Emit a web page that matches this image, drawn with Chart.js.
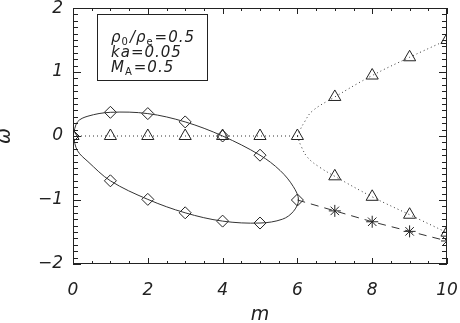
<!DOCTYPE html>
<html><head><meta charset="utf-8">
<script src="https://cdn.jsdelivr.net/npm/chart.js@4"></script>
<style>html,body{margin:0;padding:0;background:#fff}</style>
</head><body>
<canvas id="c" width="460" height="323" style="width:460px;height:323px;display:block"></canvas>
<script>
// ---- data ----
const xTickValues = [0, 2, 4, 6, 8, 10];
const yTickValues = [-2, -1, 0, 1, 2];

// diamonds on the closed (solid) curve
const diamondM = [0, 1, 2, 3, 4, 5, 6, 5, 4, 3, 2, 1];
const diamondW = [0, 0.37, 0.35, 0.22, 0.0, -0.30, -1.0, -1.36, -1.33, -1.20, -0.99, -0.70];

// solid closed curve
const loopM = [0, 0.12, 0.4, 1, 2, 3, 4, 5, 5.54, 5.89, 6.03, 5.89, 5.6, 5, 4, 3, 2, 1, 0.4, 0.12, 0];
const loopW = [0, 0.22, 0.31, 0.37, 0.35, 0.22, 0.0, -0.30, -0.54, -0.79, -1.0, -1.18, -1.30, -1.36, -1.33, -1.20, -0.99, -0.70, -0.40, -0.23, 0];

// triangles
const triM = [0, 1, 2, 3, 4, 5, 6, 7, 8, 9, 10, 7, 8, 9, 10];
const triW = [0, 0, 0, 0, 0, 0, 0, 0.61, 0.945, 1.23, 1.50, -0.63, -0.95, -1.23, -1.51];

// dotted lines
const dotFlatM = [0, 6];
const dotFlatW = [0, 0];
const dotUpM = [6, 6.06, 6.18, 6.4, 7, 8, 9, 10];
const dotUpW = [0, 0.08, 0.21, 0.39, 0.61, 0.945, 1.23, 1.50];
const dotLowM = [6, 6.1, 6.28, 6.6, 7, 8, 9, 10];
const dotLowW = [0, -0.16, -0.34, -0.49, -0.63, -0.95, -1.23, -1.51];

// dashed line with asterisks
const dashM = [6, 7, 8, 9, 10];
const dashW = [-1.0, -1.17, -1.34, -1.49, -1.64];
const starM = [7, 8, 9, 10];
const starW = [-1.17, -1.34, -1.49, -1.64];

const pts = (ms, ws) => ms.map((m, i) => ({x: m, y: ws[i]}));
const INK = '#222';
const FONT = '"DejaVu Sans", sans-serif';

const framePlugin = {
  id: 'frame',
  afterDraw(chart) {
    const ctx = chart.ctx, ca = chart.chartArea;
    const xs = chart.scales.x, ys = chart.scales.y;
    ctx.save();
    ctx.strokeStyle = INK; ctx.lineWidth = 1;
    ctx.strokeRect(ca.left + 0.5, ca.top + 0.5, ca.right - ca.left - 1, ca.bottom - ca.top - 1);
    ctx.beginPath();
    for (let i = 0; i <= 20; i++) {
      const v = i * 0.5;
      const p = Math.round(xs.getPixelForValue(v)) + 0.5;
      const len = (i % 4 === 0) ? 6 : 3;
      ctx.moveTo(p, ca.bottom); ctx.lineTo(p, ca.bottom - len);
      ctx.moveTo(p, ca.top); ctx.lineTo(p, ca.top + len);
    }
    for (let i = 0; i <= 40; i++) {
      const v = -2 + i * 0.1;
      const p = Math.round(ys.getPixelForValue(v)) + 0.5;
      const len = (i % 10 === 0) ? 8 : 5;
      ctx.moveTo(ca.left, p); ctx.lineTo(ca.left + len, p);
      ctx.moveTo(ca.right, p); ctx.lineTo(ca.right - len, p);
    }
    ctx.stroke();

    // top y tick label (kept inside the canvas, as in the reference)
    ctx.fillStyle = INK;
    ctx.font = 'italic 17px ' + FONT;
    ctx.textAlign = 'right'; ctx.textBaseline = 'middle';
    ctx.fillText(String(yTickValues[yTickValues.length - 1]), ca.left - 10, 8.5);

    // annotation box
    ctx.strokeRect(97.5, 14.5, 110, 66);
    ctx.textAlign = 'left'; ctx.textBaseline = 'alphabetic';
    const main = 'italic 15px ' + FONT, sub = '10px ' + FONT;
    const runs = (x, y, parts) => {
      for (const [t, s] of parts) {
        ctx.font = s ? sub : main;
        ctx.fillText(t, x, y + (s ? 3 : 0));
        x += ctx.measureText(t).width + (s ? 1 : 0);
      }
    };
    try { ctx.letterSpacing = '1px'; } catch (e) {}
    runs(111, 42, [['ρ', 0], ['0', 1], ['/', 0], ['ρ', 0], ['e', 1], ['=0.5', 0]]);
    runs(111, 57, [['ka=0.05', 0]]);
    runs(111, 72, [['M', 0], ['A', 1], ['=0.5', 0]]);
    ctx.restore();
  }
};

new Chart(document.getElementById('c'), {
  type: 'scatter',
  data: {
    datasets: [
      {data: pts(loopM, loopW), showLine: true, borderColor: '#333', borderWidth: 1, pointRadius: 0, tension: 0.35, fill: false},
      {data: pts(dotFlatM, dotFlatW), showLine: true, borderColor: '#333', borderWidth: 1, borderDash: [1, 3], pointRadius: 0, tension: 0},
      {data: pts(dotUpM, dotUpW), showLine: true, borderColor: '#333', borderWidth: 1, borderDash: [1, 3], pointRadius: 0, tension: 0.4},
      {data: pts(dotLowM, dotLowW), showLine: true, borderColor: '#333', borderWidth: 1, borderDash: [1, 3], pointRadius: 0, tension: 0.4},
      {data: pts(dashM, dashW), showLine: true, borderColor: '#333', borderWidth: 1, borderDash: [8, 6], pointRadius: 0, tension: 0},
      {data: pts(diamondM, diamondW), showLine: false, pointStyle: 'rectRot', pointRadius: 6, borderColor: INK, borderWidth: 1, backgroundColor: 'rgba(0,0,0,0)'},
      {data: pts(triM, triW), showLine: false, pointStyle: 'triangle', pointRadius: 7, borderColor: INK, borderWidth: 1, backgroundColor: 'rgba(0,0,0,0)'},
      {data: pts(starM, starW), showLine: false, pointStyle: 'star', pointRadius: 6, borderColor: INK, borderWidth: 1, backgroundColor: 'rgba(0,0,0,0)'}
    ]
  },
  options: {
    responsive: false, animation: false, devicePixelRatio: 1,
    layout: {padding: {left: 0, right: 13, top: 0, bottom: 0}},
    plugins: {legend: {display: false}, tooltip: {enabled: false}},
    scales: {
      x: {
        type: 'linear', min: 0, max: 10,
        afterBuildTicks: s => { s.ticks = xTickValues.map(v => ({value: v})); },
        ticks: {color: INK, font: {family: FONT, style: 'italic', size: 17}, padding: 16, maxRotation: 0, autoSkip: false},
        grid: {display: false, drawTicks: false},
        border: {display: false},
        title: {display: true, text: 'm', color: INK, font: {family: FONT, style: 'italic', size: 19, lineHeight: 0.8}, padding: 0},
        afterFit: s => { s.height = 59; s.paddingLeft = 0; s.paddingRight = 0; }
      },
      y: {
        type: 'linear', min: -2, max: 2,
        afterBuildTicks: s => { s.ticks = yTickValues.map(v => ({value: v})); },
        ticks: {color: INK, font: {family: FONT, style: 'italic', size: 17}, padding: 10,
          callback: v => v === 2 ? '' : (v < 0 ? '\u2212' + Math.abs(v) : String(v))},
        grid: {display: false, drawTicks: false},
        border: {display: false},
        title: {display: true, text: 'ω', color: INK, font: {family: FONT, style: 'italic', size: 19, lineHeight: 0.5}, padding: 0},
        afterFit: s => { s.width = 73; s.paddingTop = 0; s.paddingBottom = 0; }
      }
    }
  },
  plugins: [framePlugin]
});
</script>
</body></html>
